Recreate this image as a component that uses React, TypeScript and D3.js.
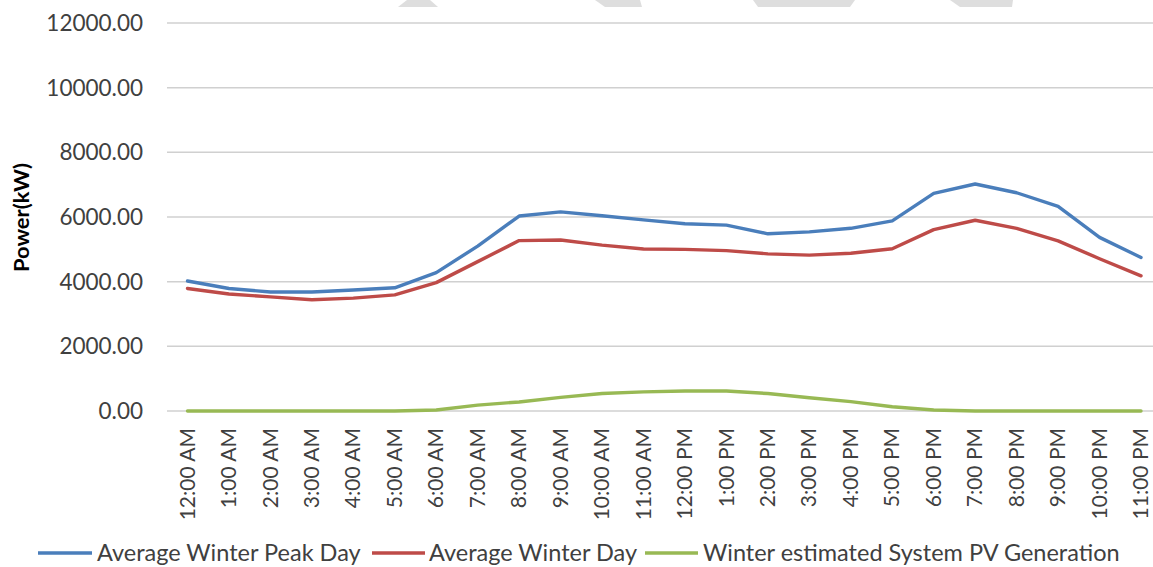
import React from "react";
import * as d3 from "d3";

const hours = [
  "12:00 AM", "1:00 AM", "2:00 AM", "3:00 AM", "4:00 AM", "5:00 AM",
  "6:00 AM", "7:00 AM", "8:00 AM", "9:00 AM", "10:00 AM", "11:00 AM",
  "12:00 PM", "1:00 PM", "2:00 PM", "3:00 PM", "4:00 PM", "5:00 PM",
  "6:00 PM", "7:00 PM", "8:00 PM", "9:00 PM", "10:00 PM", "11:00 PM",
];

const peakDay = [
  4020, 3790, 3680, 3680, 3740, 3810, 4280, 5100, 6030, 6160, 6040, 5910,
  5790, 5750, 5480, 5540, 5650, 5880, 6730, 7020, 6750, 6330, 5370, 4750,
];

const winterDay = [
  3790, 3620, 3530, 3440, 3490, 3590, 3970, 4620, 5270, 5290, 5130, 5010,
  5000, 4960, 4860, 4820, 4880, 5020, 5610, 5900, 5650, 5260, 4710, 4180,
];

const pvGeneration = [
  0, 0, 0, 0, 0, 0, 30, 180, 280, 420, 540, 590,
  620, 620, 540, 410, 290, 130, 30, 0, 0, 0, 0, 0,
];

const yTicks = [0, 2000, 4000, 6000, 8000, 10000, 12000];

const seriesNames = [
  "Average Winter Peak Day",
  "Average Winter Day",
  "Winter estimated System PV Generation",
];
const seriesColors = ["#4a7ebb", "#be4b48", "#98b954"];

// faint decorative background shapes at top edge (not data)
const decoShapes = [
  [[407, 0], [430, 0], [438, 7], [398, 7]],
  [[595, 0], [640, 0], [642, 7], [605, 7]],
  [[753, 0], [855, 0], [850, 7], [758, 7]],
  [[950, 0], [1013, 0], [1012, 7], [960, 7]],
];

const FONT = "Lato, 'Open Sans', sans-serif";
const TEXT = "#404040";

export default function App() {
  const W = 1153;
  const H = 567;
  const plotLeft = 167;
  const plotRight = 1153;
  const yTop = 23;
  const yBottom = 411;

  const x = d3.scalePoint<string>().domain(hours).range([187.5, 1141]);
  const y = d3.scaleLinear().domain([0, 12000]).range([yBottom, yTop]);

  const allSeries = [peakDay, winterDay, pvGeneration];
  const line = d3
    .line<number>()
    .x((_, i) => x(hours[i]) as number)
    .y((d) => y(d));

  const legendItems = [
    { x0: 38, x1: 92, tx: 97 },
    { x0: 372, x1: 425, tx: 429 },
    { x0: 645, x1: 698, tx: 703 },
  ];
  const legendY = 553;

  return (
    <svg
      width={W}
      height={H}
      style={{ position: "absolute", left: 0, top: 0, background: "#fff" }}
      fontFamily={FONT}
    >
      {decoShapes.map((s, i) => (
        <polygon key={i} points={s.map((p) => p.join(",")).join(" ")} fill="#dedede" />
      ))}
      {yTicks.map((t) => (
        <g key={t}>
          <line
            x1={plotLeft}
            x2={plotRight}
            y1={y(t)}
            y2={y(t)}
            stroke="#d0d0d0"
            strokeWidth={1.5}
          />
          <text
            x={143}
            y={y(t)}
            dy="0.36em"
            textAnchor="end"
            fontSize={22.5}
            fill={TEXT}
          >
            {d3.format(".2f")(t)}
          </text>
        </g>
      ))}
      <text
        transform={`translate(22,217.5) rotate(-90)`}
        textAnchor="middle"
        dy="0.35em"
        fontSize={20}
        fontWeight="bold"
        fill="#000"
        textLength={109}
        lengthAdjust="spacingAndGlyphs"
      >
        Power(kW)
      </text>
      {hours.map((h) => (
        <text
          key={h}
          transform={`translate(${x(h)},428) rotate(-90)`}
          textAnchor="end"
          dy="0.34em"
          fontSize={21}
          fill={TEXT}
        >
          {h}
        </text>
      ))}
      {allSeries.map((s, i) => (
        <path
          key={i}
          d={line(s) || ""}
          fill="none"
          stroke={seriesColors[i]}
          strokeWidth={3.4}
          strokeLinejoin="round"
          strokeLinecap="round"
        />
      ))}
      {seriesNames.map((n, i) => (
        <g key={n}>
          <line
            x1={legendItems[i].x0}
            x2={legendItems[i].x1}
            y1={legendY}
            y2={legendY}
            stroke={seriesColors[i]}
            strokeWidth={3.4}
          />
          <text x={legendItems[i].tx} y={legendY} dy="0.35em" fontSize={23.5} fill={TEXT}>
            {n}
          </text>
        </g>
      ))}
    </svg>
  );
}
